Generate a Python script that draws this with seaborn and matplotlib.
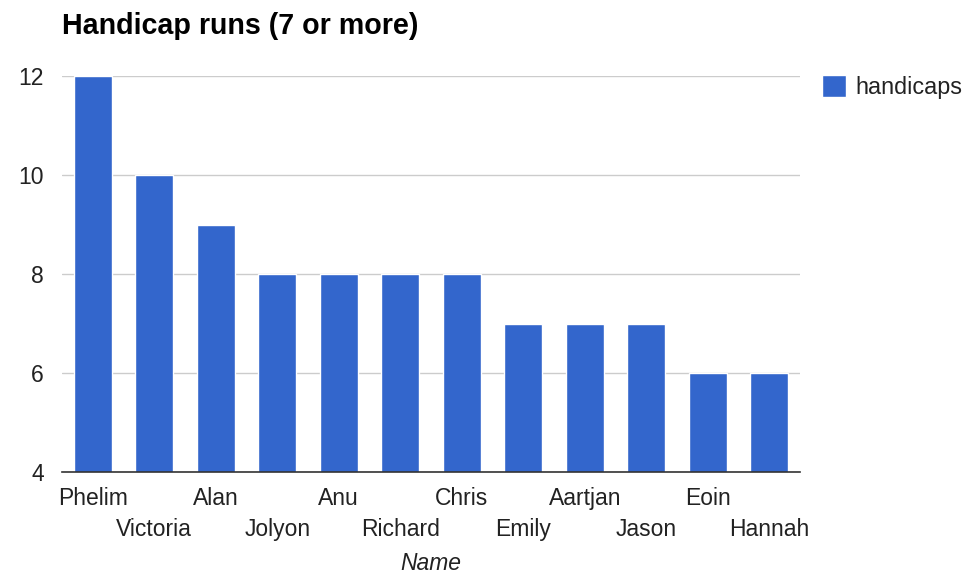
import matplotlib
matplotlib.use("Agg")
import matplotlib.pyplot as plt
import seaborn as sns
import pandas as pd

names = ["Phelim", "Victoria", "Alan", "Jolyon", "Anu", "Richard", "Chris",
         "Emily", "Aartjan", "Jason", "Eoin", "Hannah"]
handicaps = [12, 10, 9, 8, 8, 8, 8, 7, 7, 7, 6, 6]
yticks = [4, 6, 8, 10, 12]

sns.set_theme(style="white")
plt.rcParams['font.family'] = ['Liberation Sans', 'DejaVu Sans']

df = pd.DataFrame({"Name": names, "handicaps": handicaps})

fig = plt.figure(figsize=(9.68, 5.77), dpi=100)
ax = fig.add_axes([62/968, 1-472/577, (800-62)/968, (472-76)/577])

sns.barplot(data=df, x="Name", y="handicaps", color="#3366CC", saturation=1,
            width=0.62, label="handicaps", ax=ax)

ax.set_ylim(4, 12)
ax.set_yticks(yticks)
ax.set_yticklabels([str(t) for t in yticks])
ax.yaxis.grid(True, color="#cccccc", linewidth=1)
ax.set_axisbelow(True)
for s in ["top", "right", "left"]:
    ax.spines[s].set_visible(False)
ax.spines["bottom"].set_color("#333333")
ax.spines["bottom"].set_linewidth(1.2)
ax.spines["bottom"].set_zorder(5)

ax.tick_params(axis="both", length=0, labelsize=16.5, labelcolor="#222222")
ax.tick_params(axis="y", pad=13)
for i, tick in enumerate(ax.xaxis.get_major_ticks()):
    tick.set_pad(11 if i % 2 == 0 else 33)

ax.set_ylabel("")
ax.set_xlabel("Name", fontsize=16.5, style="italic", color="#222222")
ax.xaxis.set_label_coords(0.5, -0.203)

fig.text(62/968, 1-26/577, "Handicap runs (7 or more)", fontsize=20.6,
         fontweight="bold", color="#000000", va="center", ha="left")

ax.legend(loc="upper left", bbox_to_anchor=(1.017, 1.025), frameon=False,
          fontsize=16.8, handlelength=1.05, handleheight=1.05, handletextpad=0.4,
          borderaxespad=0, labelcolor="#222222")

fig.savefig("out.png", dpi=100)
